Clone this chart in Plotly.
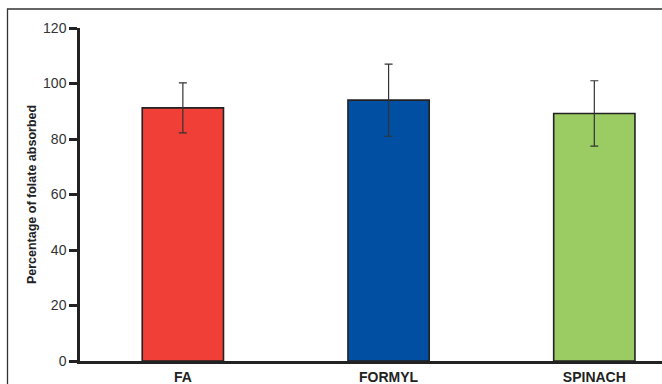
import plotly.graph_objects as go

categories = ["FA", "FORMYL", "SPINACH"]
values = [91.2, 94.0, 89.2]
errors = [9.0, 13.0, 11.8]
colors = ["#EF3F37", "#004FA2", "#9BCC64"]
y_ticks = [0, 20, 40, 60, 80, 100, 120]

W, H = 662, 384
ML, MR, MT, MB = 80, 0, 28, 23

fig = go.Figure()
fig.add_trace(go.Bar(
    x=categories, y=values,
    width=0.395,
    marker=dict(color=colors, line=dict(color="#222222", width=1.6)),
    error_y=dict(type="data", array=errors, visible=True,
                 color="#333333", thickness=1.2, width=4),
))

pw = W - ML - MR
ph = H - MT - MB
fx0 = (7.5 - ML) / pw
fy1 = (H - MB - 9) / ph

fig.add_shape(type="rect", xref="paper", yref="paper",
              x0=fx0, x1=1.2, y0=-0.3, y1=fy1,
              line=dict(color="#333333", width=1.3), layer="below")

fig.update_layout(
    width=W, height=H,
    margin=dict(l=ML, r=MR, t=MT, b=MB),
    paper_bgcolor="white", plot_bgcolor="white",
    showlegend=False,
    font=dict(family="Liberation Sans, Arial, sans-serif", color="#333333"),
)
fig.update_xaxes(
    range=[-0.5, 2.329], showgrid=False, zeroline=False,
    showline=True, linecolor="#222222", linewidth=2.5,
    ticks="", tickfont=dict(size=14, color="#222222", family="Liberation Sans, Arial, sans-serif", weight="bold"),
    ticklabelstandoff=1,
)
fig.update_yaxes(
    range=[0, 120], tickvals=y_ticks, showgrid=False, zeroline=False,
    showline=True, linecolor="#222222", linewidth=2.5,
    ticks="outside", ticklen=8, tickwidth=2.5, tickcolor="#222222",
    tickfont=dict(size=14, color="#333333"),
    ticklabelstandoff=0,
    title=dict(text="<b>Percentage of folate absorbed</b>", font=dict(size=12.5, color="#222222"), standoff=4),
)

fig.write_html("out.html")
